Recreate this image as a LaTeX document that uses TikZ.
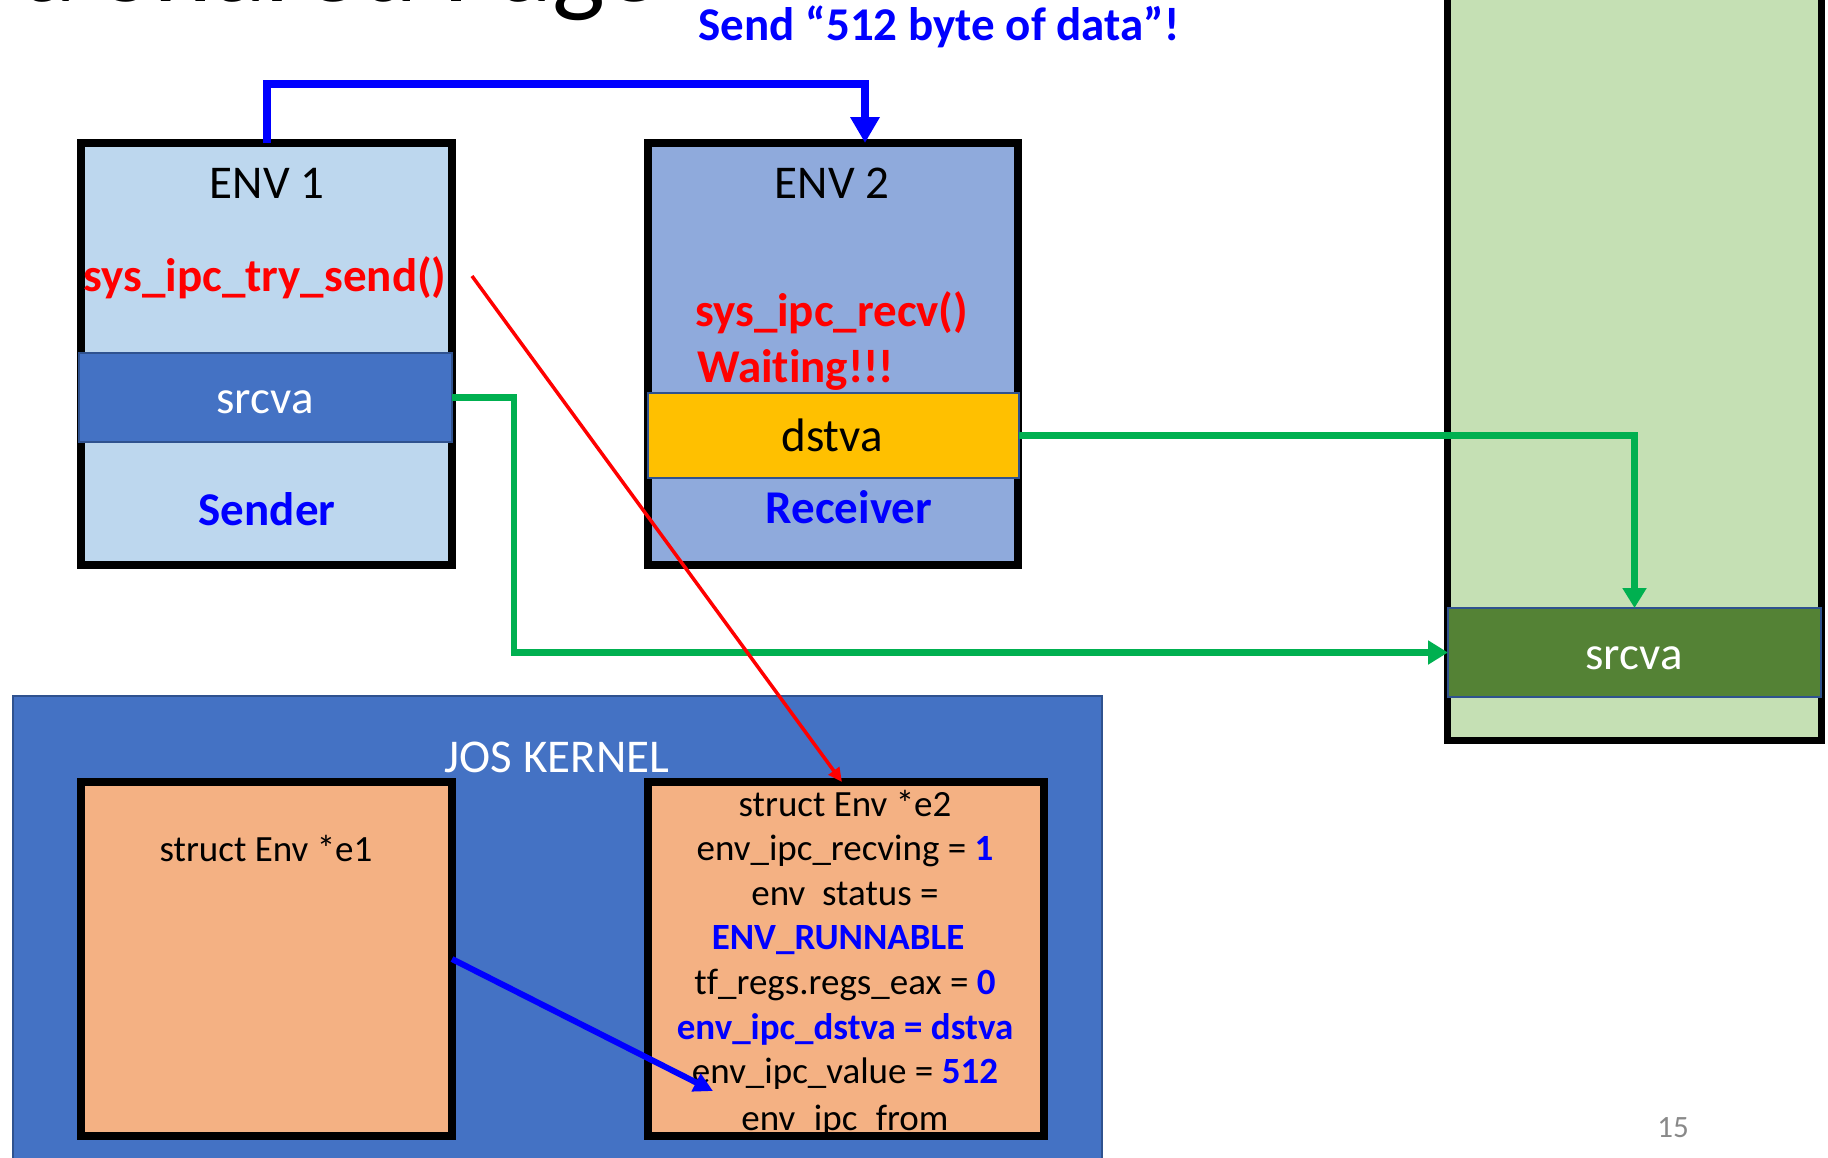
\documentclass[tikz,border=0pt]{standalone}
\usepackage{fontspec}
\setmainfont{Carlito}[Ligatures={NoCommon}]
\usetikzlibrary{arrows.meta,calc}
\definecolor{envA}{HTML}{BDD7EE}
\definecolor{envB}{HTML}{8FAADC}
\definecolor{bandblue}{HTML}{4472C4}
\definecolor{bandedge}{HTML}{2F528F}
\definecolor{gold}{HTML}{FFC000}
\definecolor{lightgreen}{HTML}{C5E0B4}
\definecolor{darkgreen}{HTML}{548235}
\definecolor{peach}{HTML}{F4B183}
\definecolor{linegreen}{HTML}{00B050}
\definecolor{pureblue}{HTML}{0000FF}
\definecolor{purered}{HTML}{FF0000}
\definecolor{pagegrey}{HTML}{898989}
\begin{document}
\begin{tikzpicture}[x=1pt,y=-1pt,
  box/.style={draw=black, line width=8pt, inner sep=0pt, outer sep=0pt},
  band/.style={draw=bandedge, line width=2pt, inner sep=0pt, outer sep=0pt},
  lbl/.style={font=\fontsize{47}{56}\selectfont, inner sep=0pt, anchor=base},
  lblb/.style={font=\fontsize{47}{56}\selectfont\bfseries, inner sep=0pt, anchor=base},
  code/.style={font=\fontsize{37}{44}\selectfont, inner sep=0pt, anchor=base},
  codeb/.style={font=\fontsize{37}{44}\selectfont\bfseries, text=pureblue, inner sep=0pt, anchor=base},
  greenline/.style={draw=linegreen, line width=6.5pt, -{Triangle[width=23pt,length=20pt]}},
  bluebracket/.style={draw=pureblue, line width=8pt, -{Triangle[width=28pt,length=26pt]}},
  redline/.style={draw=purered, line width=3.5pt, -{Triangle[width=13pt,length=14pt]}},
  bluekern/.style={draw=pureblue, line width=6pt, -{Triangle[width=19pt,length=19pt]}}
]
\useasboundingbox (0,0) rectangle (1828,1157);
\clip (0,0) rectangle (1828,1157);

% cut-off title
\node[font=\fontsize{112}{112}\selectfont, inner sep=0pt, anchor=base east] (title) at (660,1) {Use a Shared Page};

% message
\node[lblb, text=pureblue] (msg) at (939,40) {Send “512 byte of data”!};

% ENV 1
\node[box, fill=envA, minimum width=371pt, minimum height=422pt] (env1) at (266.5,354) {};
\node[band, fill=bandblue, minimum width=373pt, minimum height=89pt] (sva1) at (265.5,397.5) {};
\node[lbl] (env1t) at (267,198) {ENV 1};
\node[lblb, text=purered] (send) at (265,291) {sys\_ipc\_try\_send()};
\node[lbl, text=white] (sva1t) at (265,413) {srcva};
\node[lblb, text=pureblue] (sender) at (267,525) {Sender};

% ENV 2
\node[box, fill=envB, minimum width=370pt, minimum height=422pt] (env2) at (833,354) {};
\node[band, fill=gold, minimum width=371pt, minimum height=85pt] (dst) at (833.5,435.5) {};
\node[lbl] (env2t) at (832,198) {ENV 2};
\node[lblb, text=purered, anchor=base west] (recv) at (695,326) {sys\_ipc\_recv()};
\node[lblb, text=purered, anchor=base west] (wait) at (697,382) {Waiting!!!};
\node[lbl] (dstt) at (832,451) {dstva};
\node[lblb, text=pureblue] (receiver) at (849,523) {Receiver};

% shared memory column
\node[draw=black, line width=7pt, fill=lightgreen, minimum width=374pt, minimum height=780pt, inner sep=0pt] (mem) at (1634,350) {};
\node[band, fill=darkgreen, minimum width=373pt, minimum height=89pt] (sva2) at (1634.5,652.5) {};
\node[lbl, text=white] (sva2t) at (1634,669) {srcva};

% kernel
\node[fill=bandblue, draw=bandedge, line width=1.5pt, minimum width=1089pt, minimum height=484pt, inner sep=0pt] (kernel) at (557.5,938) {};
\node[lbl, text=white] (kernt) at (557,772) {JOS KERNEL};
\node[box, fill=peach, minimum width=371pt, minimum height=354pt] (e1) at (266.5,959) {};
\node[code] (e1t) at (266,861) {struct Env *e1};
\node[box, fill=peach, minimum width=396pt, minimum height=354pt] (e2) at (846,959) {};
\node[code] (e2a) at (845,816) {struct Env *e2};
\node[code] (e2b) at (845,860.6) {env\_ipc\_recving = \textbf{\color{pureblue}1}};
\node[code] (e2c) at (845,905.2) {env\ \ status =};
\node[codeb] (e2d) at (838,949.8) {ENV\_RUNNABLE};
\node[code] (e2e) at (845,994.4) {tf\_regs.regs\_eax = \textbf{\color{pureblue}0}};
\node[codeb] (e2f) at (845,1039) {env\_ipc\_dstva = dstva};
\node[code] (e2g) at (845,1083.6) {env\_ipc\_value = \textbf{\color{pureblue}512}};
\node[code] (e2h) at (845,1130) {env\_ipc\_from};
\draw[black, line width=8pt] (e2.south west) rectangle (e2.north east);

% page number
\node[font=\fontsize{31}{31}\selectfont, text=pagegrey, inner sep=0pt, anchor=base] (pnum) at (1673,1137) {15};

% connectors
\coordinate (redstart) at (472,276);
\coordinate (bluetip) at (713,1091);
\draw[bluebracket] (env1.north) -- ++(0,-59) -| ([xshift=32pt]env2.north);
\draw[greenline] (sva1.east) -- ++(62,0) |- (sva2.west);
\draw[greenline] (dst.east) -| (sva2.north);
\draw[redline] (redstart) -- ([xshift=-4pt]e2.north);
\draw[bluekern] (e1.east) -- (bluetip);
\end{tikzpicture}
\end{document}
